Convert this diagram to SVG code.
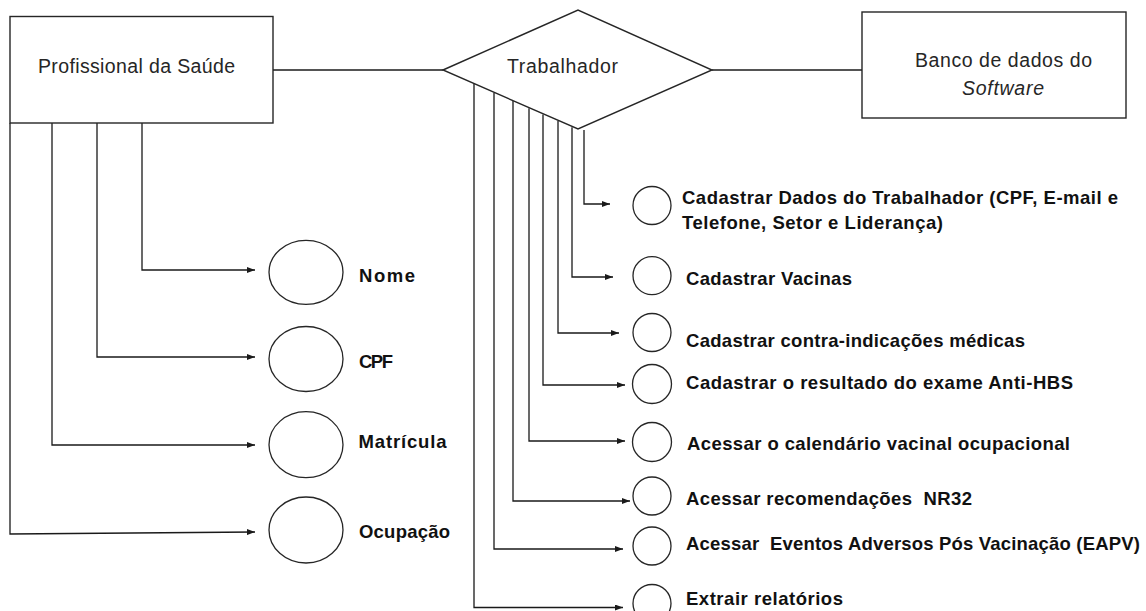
<svg xmlns="http://www.w3.org/2000/svg" width="1146" height="611" viewBox="0 0 1146 611">
  <style>
    .box { fill: #ffffff; stroke: #262626; stroke-width: 1.4; }
    .attr { fill: #ffffff; stroke: #262626; stroke-width: 1.3; }
    .conn { fill: none; stroke: #1a1a1a; stroke-width: 1.3; }
    .arrow { fill: none; stroke: #1a1a1a; stroke-width: 1.3; marker-end: url(#ah); }
    .reg { font-family: "Liberation Sans", Arial, sans-serif; font-size: 19.5px; fill: #262626; }
    .ital { font-style: italic; }
    .bold { font-family: "Liberation Sans", Arial, sans-serif; font-size: 18.5px; font-weight: bold; fill: #111111; white-space: pre; }
  </style>
  <defs>
    <marker id="ah" markerUnits="userSpaceOnUse" markerWidth="8" markerHeight="6" refX="8" refY="3" orient="auto">
      <path d="M0,0 L8,3 L0,6 z" fill="#1a1a1a"/>
    </marker>
  </defs>
  <rect width="1146" height="611" fill="#ffffff"/>

  <g id="connectors">
    <!-- entity to relationship -->
    <line class="conn" x1="273" y1="70" x2="443" y2="70"/>
    <line class="conn" x1="712" y1="70" x2="862" y2="70"/>
    <!-- Profissional da Saúde attributes -->
    <polyline class="arrow" points="142,123 142,270 255,270"/>
    <polyline class="arrow" points="97,123 97,357 255,357"/>
    <polyline class="arrow" points="52,123 52,445 255,445"/>
    <polyline class="arrow" points="10,123 10,534 255,532"/>
    <!-- Trabalhador functions -->
    <polyline class="arrow" points="584,130 584,204 610,204"/>
    <polyline class="arrow" points="572,127.3 572,277 613,277"/>
    <polyline class="arrow" points="558,121.1 558,333 619,333"/>
    <polyline class="arrow" points="543,114.4 543,385 625,385"/>
    <polyline class="arrow" points="529,108.2 529,441 625,441"/>
    <polyline class="arrow" points="513,101.1 513,501 630,501"/>
    <polyline class="arrow" points="494,92.7 494,549 623,549"/>
    <polyline class="arrow" points="474,83.8 474,607.5 623,607.5"/>
  </g>

  <g id="profissional-saude">
    <rect class="box" x="10" y="16.5" width="263" height="106.5"/>
    <text class="reg" x="38" y="73" textLength="197">Profissional da Saúde</text>
  </g>

  <g id="trabalhador">
    <polygon class="box" points="443,70 578,10 712,70 578,129"/>
    <text class="reg" x="507" y="73" textLength="111">Trabalhador</text>
  </g>

  <g id="banco-dados">
    <rect class="box" x="862" y="12" width="264" height="106"/>
    <text class="reg" x="915" y="67" textLength="177">Banco de dados do</text>
    <text class="reg ital" x="962" y="95" textLength="82">Software</text>
  </g>

  <g id="attr-nome">
    <ellipse class="attr" cx="306" cy="272.3" rx="37" ry="32"/>
    <text class="bold" x="359" y="281.5" textLength="56">Nome</text>
  </g>
  <g id="attr-cpf">
    <ellipse class="attr" cx="306" cy="359" rx="37" ry="32.5"/>
    <text class="bold" x="359" y="368" textLength="34">CPF</text>
  </g>
  <g id="attr-matricula">
    <ellipse class="attr" cx="306" cy="444.7" rx="37" ry="33"/>
    <text class="bold" x="358.5" y="448" textLength="88">Matrícula</text>
  </g>
  <g id="attr-ocupacao">
    <ellipse class="attr" cx="306" cy="530" rx="37" ry="33"/>
    <text class="bold" x="359" y="538" textLength="91">Ocupação</text>
  </g>

  <g id="func-cadastrar-dados">
    <circle class="attr" cx="652" cy="205.5" r="19"/>
    <text class="bold" x="682" y="204" textLength="436">Cadastrar Dados do Trabalhador (CPF, E-mail e</text>
    <text class="bold" x="682" y="229" textLength="261">Telefone, Setor e Liderança)</text>
  </g>
  <g id="func-cadastrar-vacinas">
    <circle class="attr" cx="652" cy="275.7" r="19"/>
    <text class="bold" x="686" y="285" textLength="166">Cadastrar Vacinas</text>
  </g>
  <g id="func-contra-indicacoes">
    <circle class="attr" cx="652" cy="332.5" r="19"/>
    <text class="bold" x="686" y="346.5" textLength="339">Cadastrar contra-indicações médicas</text>
  </g>
  <g id="func-anti-hbs">
    <circle class="attr" cx="652" cy="384" r="19.5"/>
    <text class="bold" x="686" y="389" textLength="387">Cadastrar o resultado do exame Anti-HBS</text>
  </g>
  <g id="func-calendario">
    <circle class="attr" cx="652" cy="442" r="19.5"/>
    <text class="bold" x="687" y="450" textLength="383">Acessar o calendário vacinal ocupacional</text>
  </g>
  <g id="func-nr32">
    <circle class="attr" cx="652" cy="496" r="19"/>
    <text class="bold" x="686" y="505" textLength="286" xml:space="preserve">Acessar recomendações  NR32</text>
  </g>
  <g id="func-eapv">
    <circle class="attr" cx="652" cy="546" r="19"/>
    <text class="bold" x="686" y="550" textLength="454" xml:space="preserve">Acessar  Eventos Adversos Pós Vacinação (EAPV)</text>
  </g>
  <g id="func-relatorios">
    <circle class="attr" cx="652" cy="603.5" r="19"/>
    <text class="bold" x="686" y="605" textLength="157">Extrair relatórios</text>
  </g>
</svg>
